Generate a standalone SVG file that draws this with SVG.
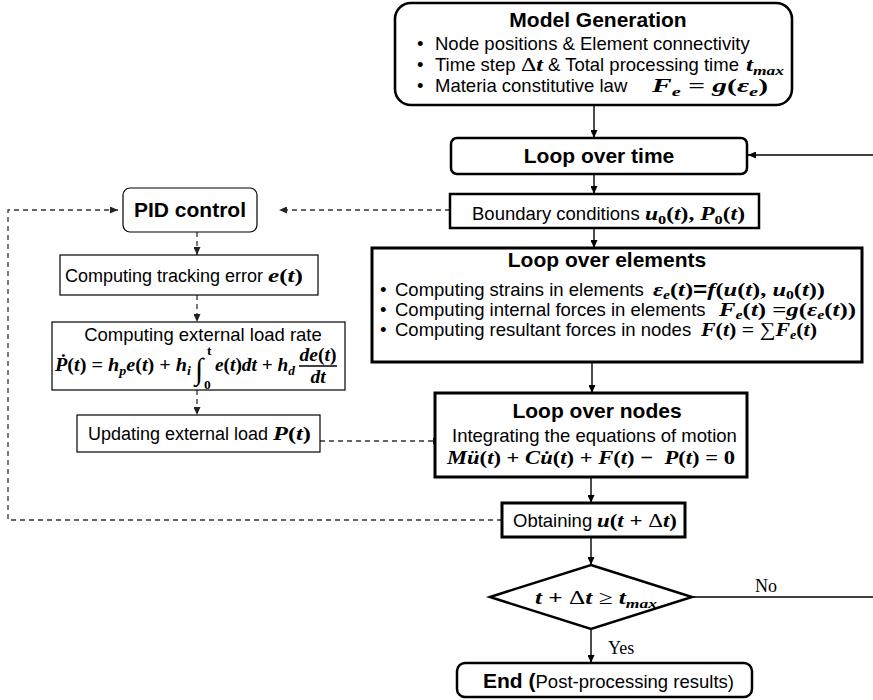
<svg xmlns="http://www.w3.org/2000/svg" width="873" height="700" viewBox="0 0 873 700">
<defs>
<style>
.bx{fill:#fff;stroke:#000}
.t{font-family:"Liberation Sans",Arial,sans-serif;font-size:18.5px;fill:#000}
.h{font-family:"Liberation Sans",Arial,sans-serif;font-size:21px;font-weight:bold;fill:#000}
.m{font-family:"Liberation Serif","DejaVu Serif",serif;font-size:19.5px;font-weight:bold;font-style:italic;fill:#000}
.mb{font-family:"Liberation Serif","DejaVu Serif",serif;font-weight:bold;font-style:normal}
.mu{font-family:"Liberation Serif","DejaVu Serif",serif;font-weight:normal;font-style:normal}
.s{font-size:13.5px}
.ss{font-size:12.5px}
.sb{font-family:"Liberation Sans",Arial,sans-serif;font-weight:bold;font-style:normal}
.lbl{font-family:"Liberation Serif","DejaVu Serif",serif;font-size:18px;fill:#000}
.cn{fill:none;stroke:#000;stroke-width:1.4}
.dl{fill:none;stroke:#333;stroke-width:1.3;stroke-dasharray:5 4}
</style>
<marker id="ah" markerWidth="8" markerHeight="7" refX="8" refY="3.5" orient="auto" markerUnits="userSpaceOnUse"><path d="M0,0L8,3.5L0,7z" fill="#000"/></marker>
<marker id="ahd" markerWidth="8" markerHeight="7" refX="8" refY="3.5" orient="auto" markerUnits="userSpaceOnUse"><path d="M0,0L8,3.5L0,7z" fill="#222"/></marker>
</defs>
<rect width="873" height="700" fill="#fff"/>

<g id="connectors">
<line class="cn" x1="594" y1="105" x2="594" y2="138" marker-end="url(#ah)"/>
<line class="cn" x1="594" y1="174" x2="594" y2="194" marker-end="url(#ah)"/>
<line class="cn" x1="594" y1="228" x2="594" y2="248" marker-end="url(#ah)"/>
<line class="cn" x1="592" y1="362" x2="592" y2="393" marker-end="url(#ah)"/>
<line class="cn" x1="591" y1="477" x2="591" y2="503" marker-end="url(#ah)"/>
<line class="cn" x1="591" y1="537" x2="591" y2="565" marker-end="url(#ah)"/>
<line class="cn" x1="591" y1="629" x2="591" y2="663" marker-end="url(#ah)"/>
<line class="cn" x1="692" y1="597" x2="873" y2="597"/>
<line class="cn" x1="873" y1="155" x2="748" y2="155" marker-end="url(#ah)"/>
<line class="dl" x1="450" y1="210" x2="279" y2="210" marker-end="url(#ahd)"/>
<polyline class="dl" points="502,520 8,520 8,210 118,210" marker-end="url(#ahd)"/>
<line class="dl" x1="197" y1="232" x2="197" y2="255" marker-end="url(#ahd)"/>
<line class="dl" x1="197" y1="295" x2="197" y2="322" marker-end="url(#ahd)"/>
<line class="dl" x1="197" y1="390" x2="197" y2="415" marker-end="url(#ahd)"/>
<line class="dl" x1="320" y1="441" x2="441" y2="441" marker-end="url(#ahd)"/>
<text class="lbl" x="755" y="592">No</text>
<text class="lbl" x="608" y="654">Yes</text>
</g>

<g id="model-generation">
<rect class="bx" x="395" y="3" width="397" height="102" rx="16" stroke-width="2.6"/>
<text class="h" x="598" y="27" text-anchor="middle">Model Generation</text>
<text class="t" x="417" y="50">•</text>
<text class="t" x="435" y="50">Node positions &amp; Element connectivity</text>
<text class="t" x="417" y="71">•</text>
<text class="t" x="435" y="71">Time step</text>
<text class="m" x="521" y="71" textLength="22" lengthAdjust="spacingAndGlyphs"><tspan class="mu">Δ</tspan>t</text>
<text class="t" x="548" y="71">&amp; Total processing time</text>
<text class="m" x="746" y="71" textLength="38" lengthAdjust="spacingAndGlyphs">t<tspan class="s" dy="4">max</tspan></text>
<text class="t" x="417" y="92">•</text>
<text class="t" x="435" y="92">Materia constitutive law</text>
<text class="m" x="652" y="92" textLength="116" lengthAdjust="spacingAndGlyphs">F<tspan class="s" dy="4">e</tspan><tspan class="mb" dy="-4"> = </tspan>g<tspan class="mb">(</tspan>ε<tspan class="s" dy="4">e</tspan><tspan class="mb" dy="-4">)</tspan></text>
</g>

<g id="loop-time">
<rect class="bx" x="451" y="138" width="296" height="36" rx="6" stroke-width="2.5"/>
<text class="h" x="599" y="163" text-anchor="middle">Loop over time</text>
</g>

<g id="boundary">
<rect class="bx" x="450" y="194" width="309" height="34" stroke-width="2.5"/>
<text class="t" x="472" y="220">Boundary conditions</text>
<text class="m" x="645" y="220" textLength="100" lengthAdjust="spacingAndGlyphs">u<tspan class="mb s" dy="4">0</tspan><tspan class="mb" dy="-4">(</tspan>t<tspan class="mb">), </tspan>P<tspan class="mb s" dy="4">0</tspan><tspan class="mb" dy="-4">(</tspan>t<tspan class="mb">)</tspan></text>
</g>

<g id="loop-elements">
<rect class="bx" x="372" y="248" width="490" height="114" stroke-width="3"/>
<text class="h" x="607" y="267" text-anchor="middle">Loop over elements</text>
<text class="t" x="380" y="296">•</text>
<text class="t" x="395" y="296">Computing strains in elements</text>
<text class="m" x="653" y="296" textLength="172" lengthAdjust="spacingAndGlyphs">ε<tspan class="ss" dy="3">e</tspan><tspan class="mb" dy="-3">(</tspan>t<tspan class="mb">)</tspan><tspan class="sb">=</tspan>f<tspan class="mb">(</tspan>u<tspan class="mb">(</tspan>t<tspan class="mb">),  </tspan>u<tspan class="mb ss" dy="3">0</tspan><tspan class="mb" dy="-3">(</tspan>t<tspan class="mb">))</tspan></text>
<text class="t" x="380" y="316">•</text>
<text class="t" x="395" y="316">Computing internal forces in elements</text>
<text class="m" x="719" y="316" textLength="137" lengthAdjust="spacingAndGlyphs">F<tspan class="ss" dy="3">e</tspan><tspan class="mb" dy="-3">(</tspan>t<tspan class="mb">) =</tspan>g<tspan class="mb">(</tspan>ε<tspan class="ss" dy="3">e</tspan><tspan class="mb" dy="-3">(</tspan>t<tspan class="mb">))</tspan></text>
<text class="t" x="380" y="336">•</text>
<text class="t" x="395" y="336">Computing resultant forces in nodes</text>
<text class="m" x="701" y="336" textLength="116" lengthAdjust="spacingAndGlyphs">F<tspan class="mb">(</tspan>t<tspan class="mb">) = </tspan><tspan class="mu">∑</tspan>F<tspan class="ss" dy="3">e</tspan><tspan class="mb" dy="-3">(</tspan>t<tspan class="mb">)</tspan></text>
</g>

<g id="loop-nodes">
<rect class="bx" x="435" y="393" width="312" height="84" stroke-width="3"/>
<text class="h" x="597" y="418" text-anchor="middle">Loop over nodes</text>
<text class="t" x="452" y="442">Integrating the equations of motion</text>
<text class="m" x="447" y="464" textLength="288" lengthAdjust="spacingAndGlyphs">Mü<tspan class="mb">(</tspan>t<tspan class="mb">) + </tspan>Cu̇<tspan class="mb">(</tspan>t<tspan class="mb">) + </tspan>F<tspan class="mb">(</tspan>t<tspan class="mb">) − </tspan><tspan dx="5">P</tspan><tspan class="mb">(</tspan>t<tspan class="mb">) = 0</tspan></text>
</g>

<g id="obtaining">
<rect class="bx" x="502" y="503" width="183" height="34" stroke-width="3"/>
<text class="t" x="513" y="527">Obtaining</text>
<text class="m" x="597" y="527" textLength="80" lengthAdjust="spacingAndGlyphs">u<tspan class="mb">(</tspan>t<tspan class="mb"> + </tspan><tspan class="mu">Δ</tspan>t<tspan class="mb">)</tspan></text>
</g>

<g id="decision">
<polygon class="bx" points="591,565 692,597 591,629 490,597" stroke-width="2.5"/>
<text class="m" x="535" y="604" textLength="122" lengthAdjust="spacingAndGlyphs">t<tspan class="mb"> + </tspan><tspan class="mu">Δ</tspan>t<tspan class="mu"> ≥ </tspan>t<tspan class="s" dy="4">max</tspan></text>
</g>

<g id="end">
<rect class="bx" x="457" y="663" width="295" height="34" rx="8" stroke-width="2.5"/>
<text class="t" x="483" y="688"><tspan class="h">End (</tspan>Post-processing results)</text>
</g>

<g id="pid-control">
<rect class="bx" x="123" y="188" width="134" height="44" rx="7" stroke-width="1.2"/>
<text class="h" x="190" y="217" text-anchor="middle">PID control</text>
</g>

<g id="tracking-error">
<rect class="bx" x="60" y="255" width="258" height="40" stroke-width="1.2"/>
<text class="t" x="65" y="282" style="font-size:18px">Computing tracking error</text>
<text class="m" x="268" y="282" textLength="35" lengthAdjust="spacingAndGlyphs">e<tspan class="mb">(</tspan>t<tspan class="mb">)</tspan></text>
</g>

<g id="load-rate">
<rect class="bx" x="52" y="322" width="293" height="68" stroke-width="1.2"/>
<text class="t" x="203" y="341" text-anchor="middle">Computing external load rate</text>
<text class="m" x="55" y="371" textLength="136" lengthAdjust="spacingAndGlyphs">Ṗ<tspan class="mb">(</tspan>t<tspan class="mb">) = </tspan>h<tspan class="s" dy="4">p</tspan><tspan dy="-4">e</tspan><tspan class="mb">(</tspan>t<tspan class="mb">) + </tspan>h<tspan class="s" dy="4">i</tspan></text>
<text class="mu" x="195" y="379" style="font-size:30px">∫</text>
<text class="m mb s" x="207" y="355">t</text>
<text class="m mb s" x="204" y="389">0</text>
<text class="m" x="215" y="371" textLength="80" lengthAdjust="spacingAndGlyphs">e<tspan class="mb">(</tspan>t<tspan class="mb">)</tspan>dt<tspan class="mb"> + </tspan>h<tspan class="s" dy="4">d</tspan></text>
<text class="m" x="318" y="361" text-anchor="middle">de<tspan class="mb">(</tspan>t<tspan class="mb">)</tspan></text>
<line x1="299" y1="366" x2="337" y2="366" stroke="#000" stroke-width="1.3"/>
<text class="m" x="318" y="383" text-anchor="middle">dt</text>
</g>

<g id="update-load">
<rect class="bx" x="77" y="415" width="243" height="37" stroke-width="1.2"/>
<text class="t" x="88" y="440" style="font-size:18px">Updating external load</text>
<text class="m" x="273" y="440" textLength="38" lengthAdjust="spacingAndGlyphs">P<tspan class="mb">(</tspan>t<tspan class="mb">)</tspan></text>
</g>
</svg>
